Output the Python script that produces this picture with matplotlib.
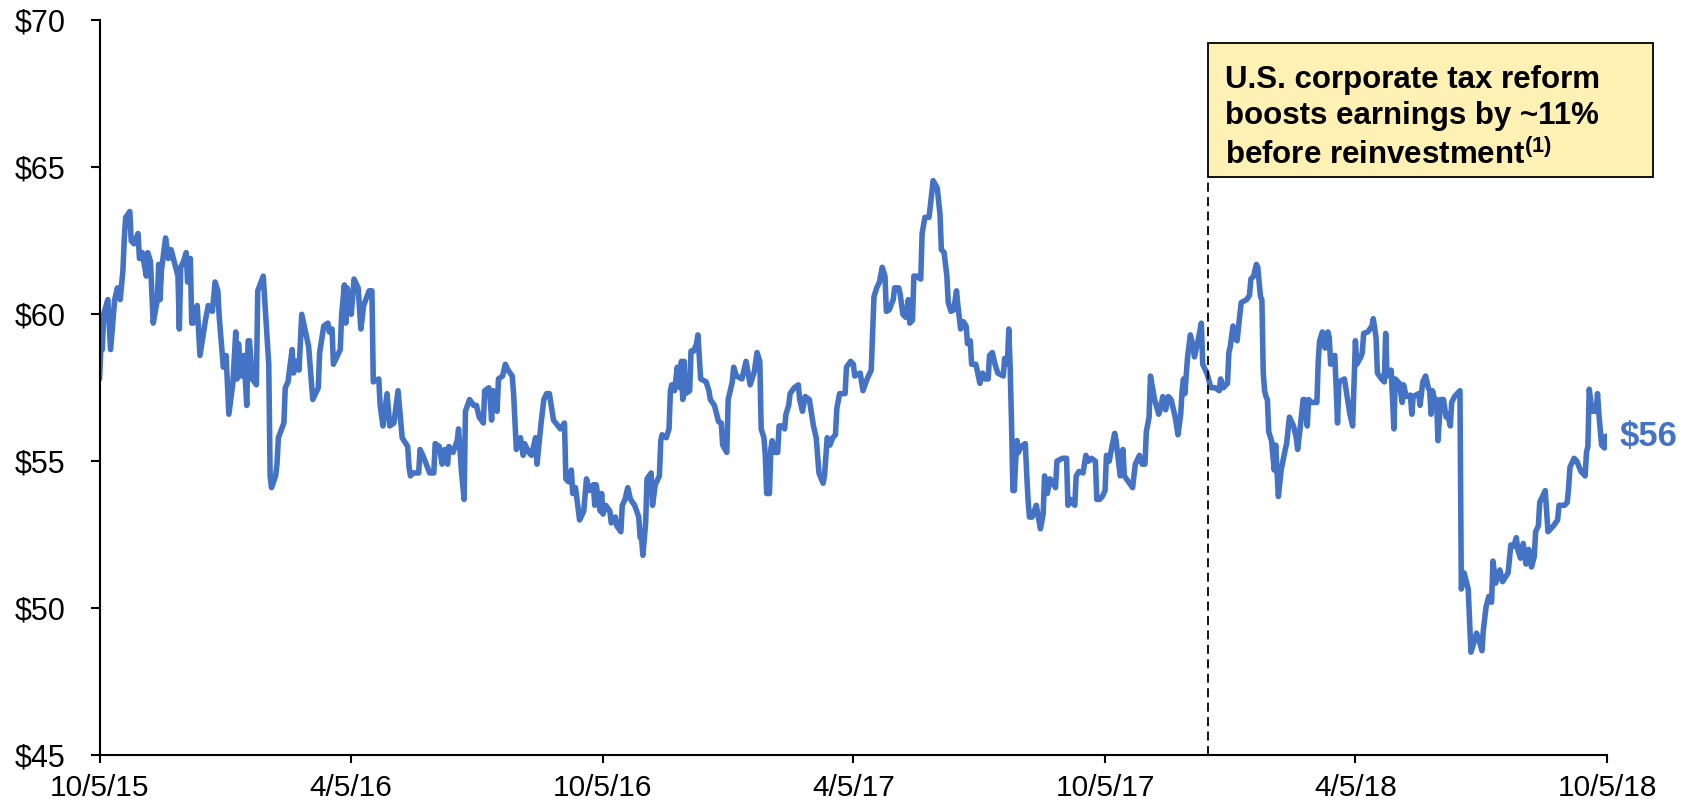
import pandas as pd
import matplotlib
matplotlib.use("Agg")
import matplotlib.pyplot as plt
from matplotlib.patches import Rectangle

plt.rcParams['font.family'] = ['Liberation Sans', 'DejaVu Sans']
plt.rcParams['mathtext.fontset'] = 'custom'
plt.rcParams['mathtext.rm'] = 'Liberation Sans'
plt.rcParams['mathtext.bf'] = 'Liberation Sans:bold'

# share price: days after 10/5/15 and closing price ($)
start_date = "2015-10-05"
day_offsets = [
    0, 1, 2, 3, 6, 8, 11, 13, 15, 17,
    18, 19, 22, 23, 25, 28, 29, 31, 34, 35,
    37, 39, 42, 43, 44, 45, 48, 50, 52, 57,
    58, 59, 61, 63, 64, 66, 67, 68, 71, 73,
    77, 79, 82, 84, 86, 87, 90, 92, 94, 97,
    99, 100, 101, 103, 105, 107, 108, 109, 111, 114,
    115, 119, 123, 124, 125, 128, 129, 130, 134, 135,
    137, 140, 141, 143, 145, 147, 152, 155, 159, 160,
    163, 166, 167, 169, 170, 175,
    176, 178, 179, 180, 183, 185, 188, 190, 192, 196,
    198, 199, 203, 204, 206, 209, 211, 214, 217, 220,
    224, 225, 226, 228, 232, 233, 235, 240, 243, 244,
    247, 249, 251, 253, 254, 257, 260, 261, 263, 265,
    266, 269, 272, 274, 276, 279, 280, 283, 284, 285,
    286, 289, 290, 293, 295, 297, 300, 301, 303, 306,
    308, 309, 312, 314, 317, 318, 321, 323, 325, 327,
    330, 335, 338, 339, 341, 343, 344, 346, 349, 352,
    354, 356, 359, 360, 361, 364,
    365, 366, 368, 371, 372, 375, 376, 379, 380, 382,
    384, 386, 389, 392, 393, 394, 395, 397, 398, 401,
    402, 404, 407, 408, 409, 412, 414, 415, 416, 418,
    420, 422, 423, 424, 425, 426, 429, 430, 432, 434,
    435, 437, 441, 443, 444, 447, 450, 452, 453, 456,
    457, 460, 461, 463, 467, 470, 473, 476, 478, 480,
    481, 483, 484, 485, 487, 488, 489, 491, 493, 494,
    497, 498, 499, 501, 502, 505, 508, 509, 511, 513,
    516, 519, 521, 523, 526, 527, 529, 531, 533, 535,
    536, 538, 542, 543, 546,
    548, 549, 553, 555, 558, 561, 563, 565, 567, 569,
    571, 572, 574, 577, 578, 581, 582, 584, 586, 588,
    589, 591, 592, 594, 597, 598, 600, 603, 604, 606,
    609, 611, 612, 614, 616, 617, 619, 621, 623, 624,
    626, 628, 630, 631, 633, 634, 637, 638, 640, 642,
    644, 646, 647, 649, 651, 653, 657, 658, 660, 661,
    662, 663, 664, 665, 666, 667, 668, 670, 673, 674,
    675, 676, 678, 681, 684, 686, 687, 689, 691, 695,
    696, 700, 703, 704, 706, 707, 709, 710, 712, 715,
    717, 719, 721, 724, 725, 727,
    729, 731, 732, 734, 736, 738, 739, 742, 744, 745,
    748, 751, 753, 756, 758, 760, 761, 763, 764, 767,
    770, 771, 773, 775, 777, 779, 782, 784, 786, 787,
    788, 789, 791, 793, 795, 796, 799, 801, 802, 805,
    808, 811, 814, 815, 817, 820, 821, 822, 824, 825,
    827, 829, 830, 834, 836, 837, 839, 841, 842, 844,
    845, 846, 847, 848, 849, 850, 852, 854, 855, 857,
    859, 862, 863, 865, 868, 870, 871, 873, 875, 876,
    878, 879, 881, 885, 886, 887, 889, 891, 893, 894,
    895, 898, 899, 900, 901, 905, 909,
    911, 913, 914, 917, 918, 919, 922, 925, 926, 928,
    929, 932, 934, 935, 936, 939, 941, 942, 945, 947,
    948, 950, 953, 954, 955, 959, 960, 962, 964, 966,
    967, 968, 969, 971, 972, 973, 975, 977, 979, 980,
    982, 983, 985, 989, 990, 992, 995, 997, 999, 1001,
    1003, 1005, 1006, 1008, 1010, 1012, 1013, 1015, 1018, 1020,
    1024, 1026, 1028, 1030, 1031, 1033, 1035, 1037, 1039, 1041,
    1043, 1044, 1046, 1047, 1049, 1051, 1053, 1057, 1060, 1061,
    1065, 1067, 1068, 1069, 1072, 1074, 1077, 1080, 1081, 1082,
    1083, 1085, 1088, 1089, 1090, 1092, 1094, 1095, 1096,
]
close_prices = [
    57.8, 58.9, 58.8, 60.0, 60.5, 58.8, 60.5, 60.9, 60.5, 61.5,
    62.6, 63.3, 63.5, 62.5, 62.4, 62.75, 61.9, 62.1, 61.3, 62.1,
    61.8, 59.7, 60.5, 61.7, 60.5, 61.5, 62.6, 61.9, 62.2, 61.3,
    59.5, 61.6, 61.8, 62.1, 61.1, 61.9, 59.7, 59.7, 60.3, 58.6,
    59.8, 60.3, 60.1, 61.1, 60.8, 59.9, 58.2, 58.6, 56.6, 57.7,
    59.4, 57.8, 59.0, 57.9, 58.6, 56.9, 59.1, 59.1, 57.8, 57.6,
    60.8, 61.3, 58.3, 54.5, 54.1, 54.5, 54.9, 55.8, 56.3, 57.5,
    57.7, 58.8, 58.0, 58.4, 58.1, 60.0, 58.9, 57.1, 57.5, 58.7,
    59.6, 59.7, 59.4, 59.5, 58.3, 58.8,
    60.0, 61.0, 59.7, 60.9, 60.0, 61.2, 60.9, 59.5, 60.3, 60.8,
    60.8, 57.7, 57.8, 56.9, 56.2, 57.3, 56.2, 56.3, 57.4, 55.8,
    55.5, 54.8, 54.5, 54.6, 54.6, 55.4, 55.2, 54.6, 54.6, 55.6,
    55.5, 54.9, 55.4, 54.9, 55.5, 55.3, 55.7, 56.1, 54.7, 53.7,
    56.7, 57.1, 56.9, 56.9, 56.5, 56.3, 57.4, 57.5, 57.1, 56.4,
    57.4, 56.7, 57.8, 57.9, 58.3, 58.1, 57.9, 57.3, 55.4, 55.8,
    55.2, 55.6, 55.3, 55.2, 55.8, 54.9, 56.3, 57.1, 57.3, 57.3,
    56.4, 56.1, 56.3, 54.4, 54.3, 54.7, 53.9, 54.1, 53.0, 53.3,
    54.4, 54.0, 54.2, 53.5, 54.2, 53.3,
    53.9, 53.2, 53.5, 53.3, 52.9, 53.1, 52.8, 52.6, 53.5, 53.7,
    54.1, 53.7, 53.5, 53.1, 52.4, 52.4, 51.8, 52.9, 54.4, 54.6,
    53.5, 54.2, 54.5, 55.7, 55.9, 55.8, 56.1, 57.4, 57.6, 57.4,
    58.2, 57.5, 58.4, 57.1, 58.4, 57.3, 57.4, 58.75, 58.75, 59.0,
    59.3, 57.8, 57.7, 57.4, 57.1, 56.9, 56.35, 56.3, 55.55, 55.3,
    57.1, 57.7, 58.2, 57.9, 57.8, 58.4, 57.6, 58.05, 58.7, 58.4,
    56.1, 55.8, 55.2, 53.9, 53.9, 55.4, 55.7, 55.3, 55.3, 56.2,
    56.2, 56.1, 56.6, 56.9, 57.3, 57.5, 57.6, 57.1, 56.7, 57.2,
    57.1, 56.2, 55.8, 54.6, 54.25, 54.5, 55.8, 55.55, 55.8, 55.9,
    56.8, 57.3, 57.3, 58.2, 58.4,
    58.3, 57.9, 58.0, 57.4, 57.8, 58.1, 60.6, 60.9, 61.1, 61.6,
    61.3, 60.1, 60.15, 60.5, 60.9, 60.9, 60.7, 60.0, 59.9, 60.5,
    59.7, 59.8, 61.3, 61.3, 61.2, 62.75, 63.3, 63.3, 63.7, 64.55,
    64.3, 63.4, 62.2, 62.1, 61.3, 60.4, 60.1, 60.15, 60.8, 60.3,
    59.5, 59.75, 59.6, 59.0, 59.1, 58.3, 58.3, 58.1, 57.65, 58.0,
    57.8, 57.8, 58.6, 58.7, 58.3, 58.0, 57.9, 58.5, 58.3, 59.5,
    58.2, 56.3, 54.0, 54.0, 55.0, 55.7, 55.3, 55.5, 55.6, 54.6,
    53.7, 53.1, 53.1, 53.5, 52.7, 53.2, 54.5, 53.9, 54.4, 54.1,
    55.0, 55.1, 55.1, 53.5, 53.7, 53.6, 53.5, 54.5, 54.65, 54.6,
    55.2, 55.0, 55.1, 55.0, 53.7, 53.7,
    53.8, 54.0, 55.2, 55.0, 55.5, 55.95, 55.7, 54.5, 55.4, 54.5,
    54.3, 54.1, 54.9, 55.2, 54.9, 54.9, 56.0, 56.5, 57.9, 57.1,
    56.6, 56.75, 57.2, 56.75, 57.2, 57.1, 56.5, 55.9, 56.6, 57.4,
    57.8, 57.3, 58.55, 59.3, 58.9, 58.55, 59.2, 59.7, 58.3, 58.0,
    57.5, 57.5, 57.4, 57.8, 57.5, 57.65, 58.7, 58.9, 59.6, 59.2,
    59.1, 60.0, 60.4, 60.5, 60.65, 61.2, 61.3, 61.7, 61.6, 60.6,
    60.5, 58.0, 57.4, 57.2, 57.1, 56.0, 55.7, 54.7, 55.55, 53.8,
    54.7, 55.4, 55.6, 56.5, 56.2, 55.8, 55.4, 56.2, 57.1, 57.1,
    56.2, 57.1, 57.0, 57.0, 58.45, 59.1, 59.4, 58.85, 59.4, 59.2,
    58.3, 58.6, 57.5, 56.3, 57.7, 57.8, 56.6,
    56.2, 59.1, 58.3, 58.55, 58.7, 59.35, 59.4, 59.6, 59.85, 59.2,
    58.0, 57.8, 57.7, 59.35, 57.9, 58.1, 56.1, 57.8, 57.65, 57.0,
    57.6, 57.2, 57.25, 56.6, 57.2, 57.3, 56.9, 57.7, 57.9, 57.5,
    57.4, 56.6, 57.4, 57.0, 57.1, 55.7, 57.1, 57.1, 56.5, 56.6,
    56.2, 57.0, 57.2, 57.4, 50.65, 51.2, 50.65, 48.5, 48.8, 49.15,
    48.9, 48.55, 49.25, 50.05, 50.4, 50.2, 51.6, 50.85, 51.3, 50.9,
    51.2, 52.15, 52.1, 52.4, 52.0, 51.7, 52.2, 51.5, 52.0, 51.4,
    51.75, 52.6, 52.8, 53.6, 53.8, 54.0, 52.6, 52.8, 53.0, 53.5,
    53.5, 53.6, 54.1, 54.8, 55.1, 55.0, 54.65, 54.5, 55.3, 55.5,
    57.45, 56.7, 56.7, 57.3, 56.6, 55.55, 55.45, 55.85, 55.85,
]

tick_dates = ["2015-10-05", "2016-04-05", "2016-10-05", "2017-04-05",
              "2017-10-05", "2018-04-05", "2018-10-05"]
y_ticks = [45, 50, 55, 60, 65, 70]
reform_date = "2017-12-19"
reform_text = "U.S. corporate tax reform\nboosts earnings by ~11%\nbefore reinvestment$^{\\mathbf{(1)}}$"
end_label = "$56"

dates = pd.Timestamp(start_date) + pd.to_timedelta(day_offsets, unit="D")
blue = "#4472C4"

fig = plt.figure(figsize=(16.96, 8.07), dpi=100)
ax = fig.add_axes([0.0587, 0.0644, 0.8889, 0.9102])

ax.plot(dates, close_prices, color=blue, lw=4.0, solid_joinstyle="round", solid_capstyle="round")

ax.set_xlim(pd.Timestamp(tick_dates[0]), pd.Timestamp(tick_dates[-1]))
ax.set_ylim(45, 70)
ax.set_yticks(y_ticks)
ax.set_yticklabels([f"${v}" for v in y_ticks])
tick_ts = [pd.Timestamp(d) for d in tick_dates]
ax.set_xticks(tick_ts)
ax.set_xticklabels([f"{t.month}/{t.day}/{t.strftime('%y')}" for t in tick_ts])

for side in ["top", "right"]:
    ax.spines[side].set_visible(False)
for side in ["left", "bottom"]:
    ax.spines[side].set_linewidth(1.5)
ax.tick_params(axis="x", length=6, width=1.5, pad=8, labelsize=21.5)
ax.tick_params(axis="y", length=6.5, width=1.5, pad=18, labelsize=22)

# tax reform marker + callout box
box_bottom = 0.787
ax.axvline(pd.Timestamp(reform_date), ymin=0, ymax=box_bottom, color="black",
           lw=1.3, linestyle=(0, (5, 3)))
box = Rectangle((0.7353, box_bottom), 0.2952, 0.182, transform=ax.transAxes,
                facecolor="#FFF0B4", edgecolor="black", lw=1.3, clip_on=False, zorder=5)
ax.add_patch(box)
ax.text(0.7466, 0.94, reform_text, transform=ax.transAxes, ha="left", va="top",
        fontsize=22.5, fontweight="bold", linespacing=1.3, zorder=6)

ax.annotate(end_label, xy=(dates[-1], close_prices[-1]), xytext=(9, 0),
            textcoords="offset points", ha="left", va="center",
            fontsize=25, fontweight="bold", color=blue, annotation_clip=False)

fig.savefig("out.png", dpi=100)
